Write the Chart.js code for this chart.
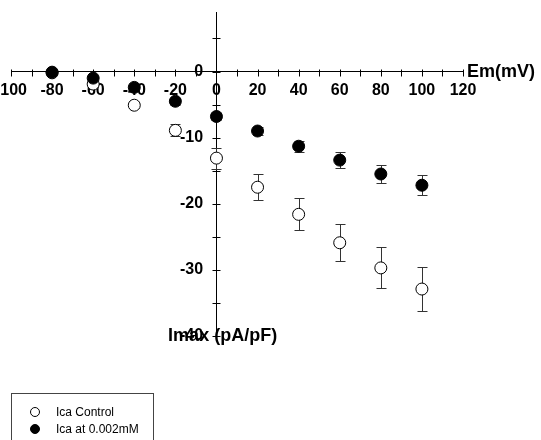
<!DOCTYPE html>
<html>
<head>
<meta charset="utf-8">
<script src="https://cdn.jsdelivr.net/npm/chart.js@4/dist/chart.umd.min.js"></script>
<style>
  html, body { margin: 0; padding: 0; background: #fff; }
  #wrap { position: relative; width: 541px; height: 440px; overflow: hidden; }
  #legend {
    position: absolute; left: 11px; top: 393px; width: 143px; height: 60px;
    border: 1px solid #444; box-sizing: border-box;
    font: 12px "Liberation Sans", Arial, sans-serif; color: #000;
  }
  #legend .item { position: absolute; left: 18px; height: 14px; line-height: 14px; }
  #legend .dot {
    position: absolute; left: 0; top: 2px; width: 10px; height: 10px;
    border: 1px solid #000; border-radius: 50%; box-sizing: border-box;
  }
  #legend .txt { position: absolute; left: 26px; white-space: nowrap; }
</style>
</head>
<body>
<div id="wrap">
  <canvas id="iv" width="541" height="440"></canvas>
  <div id="legend">
    <div class="item" style="top:11px"><span class="dot" style="background:#fff"></span><span class="txt">Ica Control</span></div>
    <div class="item" style="top:28px"><span class="dot" style="background:#000"></span><span class="txt">Ica at 0.002mM</span></div>
  </div>
</div>
<script>
/* DATA */

var voltages = [-80, -60, -40, -20, 0, 20, 40, 60, 80, 100];       // Em (mV)
var icaControl = [-0.2, -1.9, -5.1, -8.9, -13.1, -17.5, -21.6, -25.9, -29.7, -32.9];
var icaControlErr = [0.2, 0.4, 0.4, 0.9, 1.6, 2.0, 2.4, 2.8, 3.1, 3.3];
var icaDrug = [-0.1, -1.0, -2.4, -4.5, -6.8, -9.0, -11.3, -13.4, -15.5, -17.2];
var icaDrugErr = [0.2, 0.3, 0.4, 0.5, 0.6, 0.6, 0.8, 1.2, 1.4, 1.5];

var xTickValues = [-100, -90, -80, -70, -60, -50, -40, -30, -20, -10, 0, 10, 20, 30, 40, 50, 60, 70, 80, 90, 100, 110, 120];
var yTickValues = [-40, -35, -30, -25, -20, -15, -10, -5, 0, 5];

var labelFont = { family: 'Liberation Sans', size: 16, weight: 'bold' };

function toPoints(ys) {
    return voltages.map(function (v, i) { return { x: v, y: ys[i] }; });
}

// centred axes should not push the chart area in
function noScalePadding(scale) {
    scale.paddingLeft = 0;
    scale.paddingRight = 0;
    scale.paddingTop = 0;
    scale.paddingBottom = 0;
}

// error bars, drawn under the markers
var errorBars = {
    id: 'errorBars',
    beforeDatasetsDraw: function (chart) {
        var ctx = chart.ctx;
        var yScale = chart.scales.y;
        var errs = [icaControlErr, icaDrugErr];
        ctx.save();
        ctx.strokeStyle = '#333';
        ctx.lineWidth = 1;
        chart.data.datasets.forEach(function (ds, di) {
            var meta = chart.getDatasetMeta(di);
            meta.data.forEach(function (pt, i) {
                var x = Math.round(pt.x) + 0.5;
                var v = ds.data[i].y;
                var top = Math.round(yScale.getPixelForValue(v + errs[di][i])) + 0.5;
                var bot = Math.round(yScale.getPixelForValue(v - errs[di][i])) + 0.5;
                ctx.beginPath();
                ctx.moveTo(x, top); ctx.lineTo(x, bot);
                ctx.moveTo(x - 5, top); ctx.lineTo(x + 5, top);
                ctx.moveTo(x - 5, bot); ctx.lineTo(x + 5, bot);
                ctx.stroke();
            });
        });
        ctx.restore();
    }
};

// crossing tick marks + axis titles
var axisDecor = {
    id: 'axisDecor',
    beforeDatasetsDraw: function (chart) {
        var ctx = chart.ctx;
        var xs = chart.scales.x, ys = chart.scales.y;
        var x0 = Math.round(xs.getPixelForValue(0)) + 0.5;
        var y0 = Math.round(ys.getPixelForValue(0)) + 0.5;
        ctx.save();
        ctx.strokeStyle = '#000';
        ctx.lineWidth = 1;
        ctx.beginPath();
        xTickValues.forEach(function (v) {
            var px = Math.round(xs.getPixelForValue(v)) + 0.5;
            ctx.moveTo(px, y0 - 3); ctx.lineTo(px, y0 + 4);
        });
        yTickValues.forEach(function (v) {
            var py = Math.round(ys.getPixelForValue(v)) + 0.5;
            ctx.moveTo(x0 - 4, py); ctx.lineTo(x0 + 4, py);
        });
        ctx.stroke();

        ctx.fillStyle = '#000';
        ctx.font = 'bold 18px "Liberation Sans"';
        ctx.textBaseline = 'middle';
        ctx.textAlign = 'left';
        ctx.fillText('Em(mV)', xs.right + 4, y0);
        ctx.textAlign = 'center';
        ctx.fillText('Imax (pA/pF)', xs.getPixelForValue(3), ys.getPixelForValue(-40));
        ctx.restore();
    }
};

new Chart(document.getElementById('iv'), {
    type: 'scatter',
    data: {
        datasets: [
            {
                label: 'Ica Control',
                data: toPoints(icaControl),
                backgroundColor: '#fff',
                borderColor: '#000',
                borderWidth: 1,
                pointRadius: 6,
                order: 1
            },
            {
                label: 'Ica at 0.002mM',
                data: toPoints(icaDrug),
                backgroundColor: '#000',
                borderColor: '#000',
                borderWidth: 1,
                pointRadius: 6,
                order: 0
            }
        ]
    },
    options: {
        responsive: false,
        animation: false,
        devicePixelRatio: 1,
        layout: { padding: { left: 11, right: 78, top: 12, bottom: 104 } },
        scales: {
            x: {
                type: 'linear',
                min: -100,
                max: 120,
                position: { y: 0 },
                afterBuildTicks: function (scale) {
                    scale.ticks = xTickValues.map(function (v) { return { value: v }; });
                },
                afterFit: noScalePadding,
                grid: { drawOnChartArea: false, drawTicks: false },
                border: { color: '#000', width: 1 },
                ticks: {
                    autoSkip: false,
                    maxRotation: 0,
                    padding: 9,
                    color: '#000',
                    font: labelFont,
                    callback: function (value) {
                        return value % 20 === 0 ? String(value) : '';
                    }
                }
            },
            y: {
                type: 'linear',
                min: -40,
                max: 9,
                position: { x: 0 },
                afterBuildTicks: function (scale) {
                    scale.ticks = yTickValues.map(function (v) { return { value: v }; });
                },
                afterFit: noScalePadding,
                grid: { drawOnChartArea: false, drawTicks: false },
                border: { color: '#000', width: 1 },
                ticks: {
                    autoSkip: false,
                    color: '#000',
                    font: labelFont,
                    callback: function (value) {
                        // label sits right on the axis, so pad with spaces
                        return value % 10 === 0 ? String(value) + "   " : '';
                    }
                }
            }
        },
        plugins: {
            legend: { display: false },
            tooltip: { enabled: false }
        }
    },
    plugins: [errorBars, axisDecor]
});
</script>
</body>
</html>
